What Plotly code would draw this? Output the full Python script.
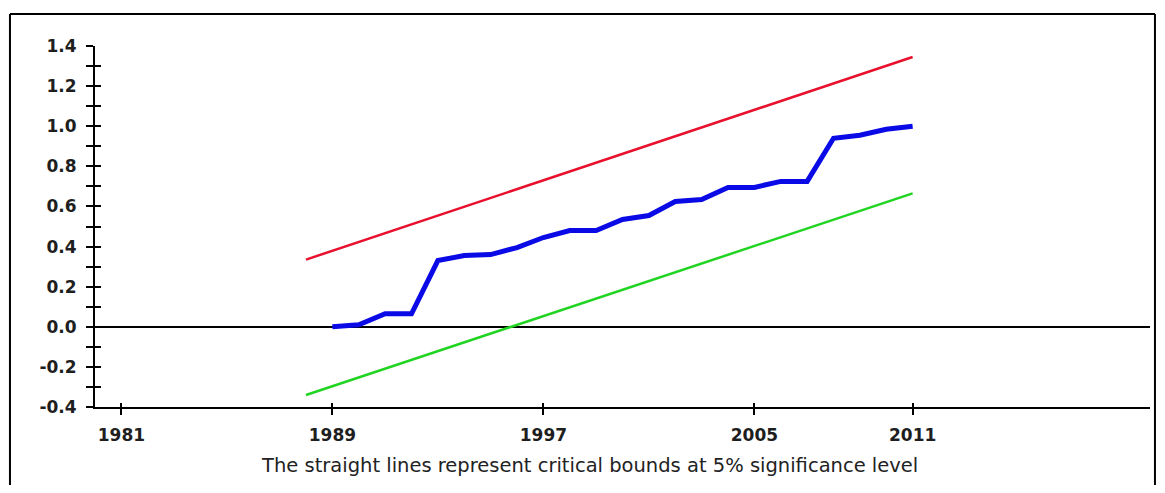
import plotly.graph_objects as go

# ---- data ----
years = [1989, 1990, 1991, 1992, 1993, 1994, 1995, 1996, 1997, 1998, 1999, 2000,
         2001, 2002, 2003, 2004, 2005, 2006, 2007, 2008, 2009, 2010, 2011]
cusum_sq = [0.00, 0.01, 0.065, 0.065, 0.33, 0.355, 0.36, 0.395, 0.445, 0.48, 0.48, 0.535,
            0.555, 0.625, 0.635, 0.695, 0.695, 0.725, 0.725, 0.94, 0.955, 0.985, 1.00]
bound_years = [1988, 2011]
upper_bound = [0.335, 1.345]
lower_bound = [-0.34, 0.665]

x_tickvals = [1981, 1989, 1997, 2005, 2011]
x_ticktext = ["1981", "1989", "1997", "2005", "2011"]
y_tickvals = [-0.4, -0.3, -0.2, -0.1, 0.0, 0.1, 0.2, 0.3, 0.4, 0.5, 0.6, 0.7,
              0.8, 0.9, 1.0, 1.1, 1.2, 1.3, 1.4]
y_ticktext = ["-0.4", "", "-0.2", "", "0.0", "", "0.2", "", "0.4", "", "0.6", "", "0.8",
              "", "1.0", "", "1.2", "", "1.4"]
caption = "The straight lines represent critical bounds at 5% significance level"

# ---- figure ----
fig = go.Figure()
fig.add_trace(go.Scatter(x=bound_years, y=upper_bound, mode="lines",
                         line=dict(color="#e8112d", width=2.5), showlegend=False))
fig.add_trace(go.Scatter(x=bound_years, y=lower_bound, mode="lines",
                         line=dict(color="#22d422", width=2.5), showlegend=False))
fig.add_trace(go.Scatter(x=years, y=cusum_sq, mode="lines",
                         line=dict(color="#0a0ae6", width=5), showlegend=False))

tickfont = dict(family="DejaVu Sans", size=17, color="#1e1e1e", weight="bold")

fig.update_layout(
    width=1149, height=477,
    margin=dict(l=87, r=7, t=38, b=78),
    plot_bgcolor="white", paper_bgcolor="white",
    xaxis=dict(range=[1980, 2020], tickvals=x_tickvals, ticktext=x_ticktext,
               showgrid=False, zeroline=False, showline=True, linecolor="black",
               linewidth=2, ticks="outside", ticklen=6, tickwidth=2, tickcolor="black",
               tickfont=tickfont, ticklabelstandoff=6),
    xaxis2=dict(range=[1980, 2020], tickvals=x_tickvals, overlaying="x", anchor="y",
                showgrid=False, zeroline=False, showline=False, ticks="inside",
                ticklen=4, tickwidth=2, tickcolor="black", showticklabels=False),
    yaxis=dict(range=[-0.4, 1.4], tickvals=y_tickvals, ticktext=y_ticktext,
               showgrid=False, zeroline=True, zerolinecolor="black", zerolinewidth=2,
               showline=True, linecolor="black", linewidth=2, ticks="outside",
               ticklen=7, tickwidth=2, tickcolor="black", tickfont=tickfont,
               ticklabelstandoff=6),
    yaxis2=dict(range=[-0.4, 1.4], tickvals=y_tickvals, overlaying="y", anchor="x",
                side="left", showgrid=False, zeroline=False, showline=False,
                ticks="inside", ticklen=6, tickwidth=2, tickcolor="black",
                showticklabels=False),
)

# invisible trace to activate overlay axes
fig.add_trace(go.Scatter(x=[1980], y=[-0.4], xaxis="x2", yaxis="y2", mode="markers",
                         marker=dict(opacity=0), showlegend=False, hoverinfo="skip"))

fig.add_annotation(text=caption, xref="paper", yref="paper", x=0.469, y=-0.161,
                   xanchor="center", yanchor="middle", showarrow=False,
                   font=dict(family="DejaVu Sans", size=19.5, color="#222222"))

# outer frame (left, top, right edges)
frame = dict(color="black", width=2)
fig.add_shape(type="line", xref="paper", yref="paper", x0=-0.0806, x1=-0.0806,
              y0=-0.5, y1=1.0886, line=frame, layer="above")
fig.add_shape(type="line", xref="paper", yref="paper", x0=-0.0806, x1=1.0047,
              y0=1.0886, y1=1.0886, line=frame, layer="above")
fig.add_shape(type="line", xref="paper", yref="paper", x0=1.0047, x1=1.0047,
              y0=-0.5, y1=1.0886, line=frame, layer="above")

fig.write_html("out.html")
